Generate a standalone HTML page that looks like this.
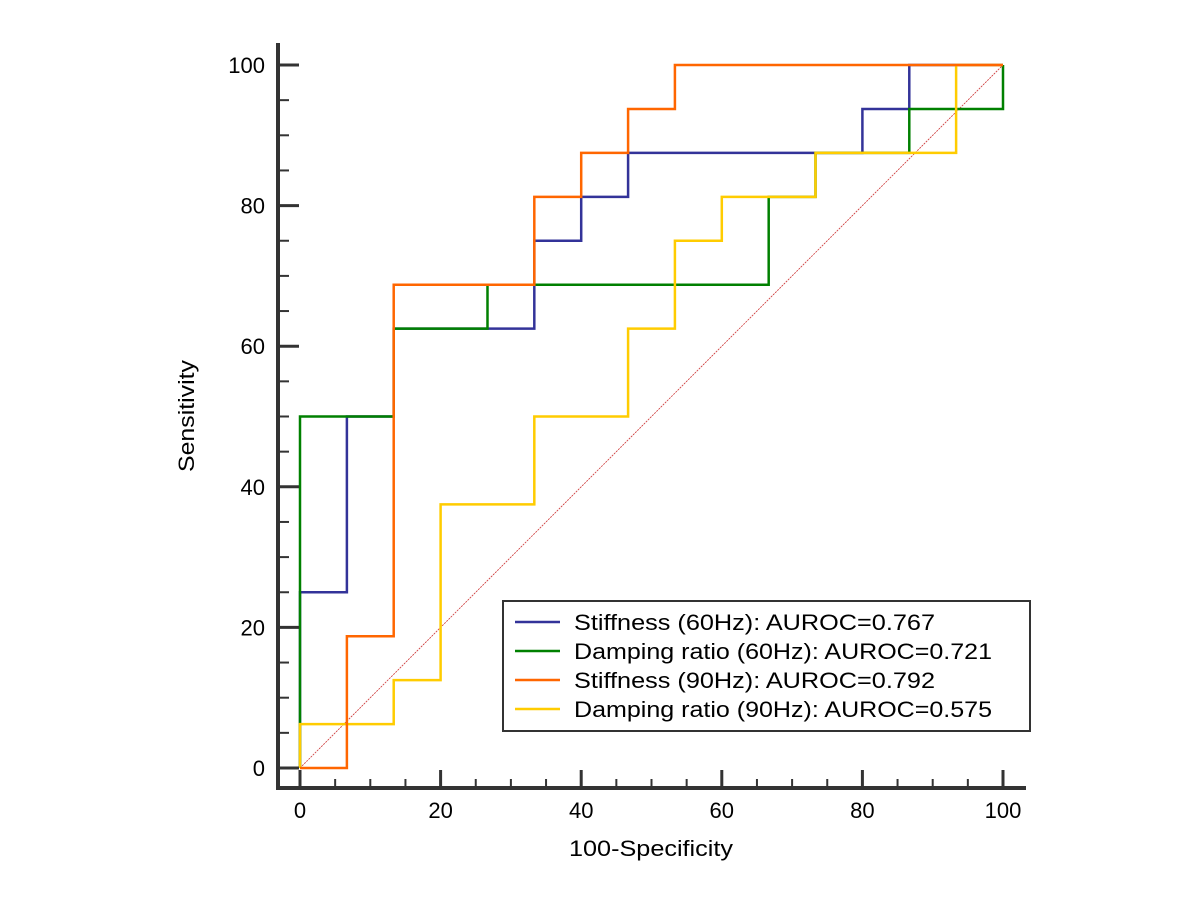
<!DOCTYPE html>
<html><head><meta charset="utf-8"><style>
body{margin:0;background:#fff}
svg{display:block;font-family:"Liberation Sans",Arial,sans-serif}
</style></head><body>
<svg id="chart" width="1200" height="900" viewBox="0 0 1200 900"></svg>
<script>
const xTicks=[0,20,40,60,80,100];
const yTicks=[0,20,40,60,80,100];
const seriesNames=["Stiffness (60Hz): AUROC=0.767","Damping ratio (60Hz): AUROC=0.721","Stiffness (90Hz): AUROC=0.792","Damping ratio (90Hz): AUROC=0.575"];
const seriesColors=["#333399","#008000","#ff6600","#ffcc00"];
const s1x=[0,0,6.67,6.67,13.33,13.33,33.33,33.33,40,40,46.67,46.67,80,80,86.67,86.67,100];
const s1y=[0,25,25,50,50,62.5,62.5,75,75,81.25,81.25,87.5,87.5,93.75,93.75,100,100];
const s2x=[0,0,13.33,13.33,26.67,26.67,66.67,66.67,73.33,73.33,86.67,86.67,100,100];
const s2y=[0,50,50,62.5,62.5,68.75,68.75,81.25,81.25,87.5,87.5,93.75,93.75,100];
const s3x=[0,6.67,6.67,13.33,13.33,33.33,33.33,40,40,46.67,46.67,53.33,53.33,100];
const s3y=[0,0,18.75,18.75,68.75,68.75,81.25,81.25,87.5,87.5,93.75,93.75,100,100];
const s4x=[0,0,13.33,13.33,20,20,33.33,33.33,46.67,46.67,53.33,53.33,60,60,73.33,73.33,93.33,93.33,100];
const s4y=[0,6.25,6.25,12.5,12.5,37.5,37.5,50,50,62.5,62.5,75,75,81.25,81.25,87.5,87.5,100,100];
const NS="http://www.w3.org/2000/svg";
const svg=document.getElementById("chart");
const X=v=>300+v*7.03, Y=v=>768-v*7.03;
function el(t,a,name){const e=document.createElementNS(NS,t);for(const k in a)e.setAttribute(k,a[k]);


svg.appendChild(e);return e;}
el("line",{x1:X(0),y1:Y(0),x2:X(100),y2:Y(100),stroke:"#cc3333","stroke-width":0.8,"stroke-dasharray":"2,1"},"reference-diagonal");
const xs=[s1x,s2x,s3x,s4x], ys=[s1y,s2y,s3y,s4y];
[0,1,3,2].forEach(i=>{
 const pts=xs[i].map((v,j)=>X(v)+","+Y(ys[i][j])).join(" ");
 el("polyline",{points:pts,fill:"none",stroke:seriesColors[i],"stroke-width":2.5},"roc-curve-"+(i+1));
});
el("line",{x1:278,y1:43,x2:278,y2:790,stroke:"#333","stroke-width":4},"y-axis");
el("line",{x1:276,y1:788,x2:1026,y2:788,stroke:"#333","stroke-width":4},"x-axis");
for(let v=0;v<=100;v+=5){
 const maj=v%20===0;
 el("line",{x1:X(v),y1:788,x2:X(v),y2:maj?770:779,stroke:"#333","stroke-width":maj?3:2},"x-tick");
 el("line",{x1:278,y1:Y(v),x2:maj?299:289,y2:Y(v),stroke:"#333","stroke-width":maj?3:2},"y-tick");
}
xTicks.forEach(v=>{const t=el("text",{x:X(v),y:818,"text-anchor":"middle","font-size":22},"x-tick-label");t.textContent=v;});
yTicks.forEach(v=>{const t=el("text",{x:265,y:Y(v)+8,"text-anchor":"end","font-size":22},"y-tick-label");t.textContent=v;});
let t=el("text",{x:569,y:856,"font-size":22,textLength:164,lengthAdjust:"spacingAndGlyphs"},"x-axis-title");t.textContent="100-Specificity";
t=el("text",{x:194,y:472,"font-size":22,textLength:112,lengthAdjust:"spacingAndGlyphs",transform:"rotate(-90 194 472)"},"y-axis-title");t.textContent="Sensitivity";
el("rect",{x:503,y:601,width:527,height:130,fill:"#fff",stroke:"#333","stroke-width":2},"legend-box");
const legW=[361,418,361,418];
seriesNames.forEach((n,i)=>{
 const y=622+i*29;
 el("line",{x1:515,y1:y,x2:560,y2:y,stroke:seriesColors[i],"stroke-width":2.5},"legend-swatch");
 const tt=el("text",{x:574,y:y+8,"font-size":22,textLength:legW[i],lengthAdjust:"spacingAndGlyphs"},"legend-entry");tt.textContent=n;
});
</script>
</body></html>
